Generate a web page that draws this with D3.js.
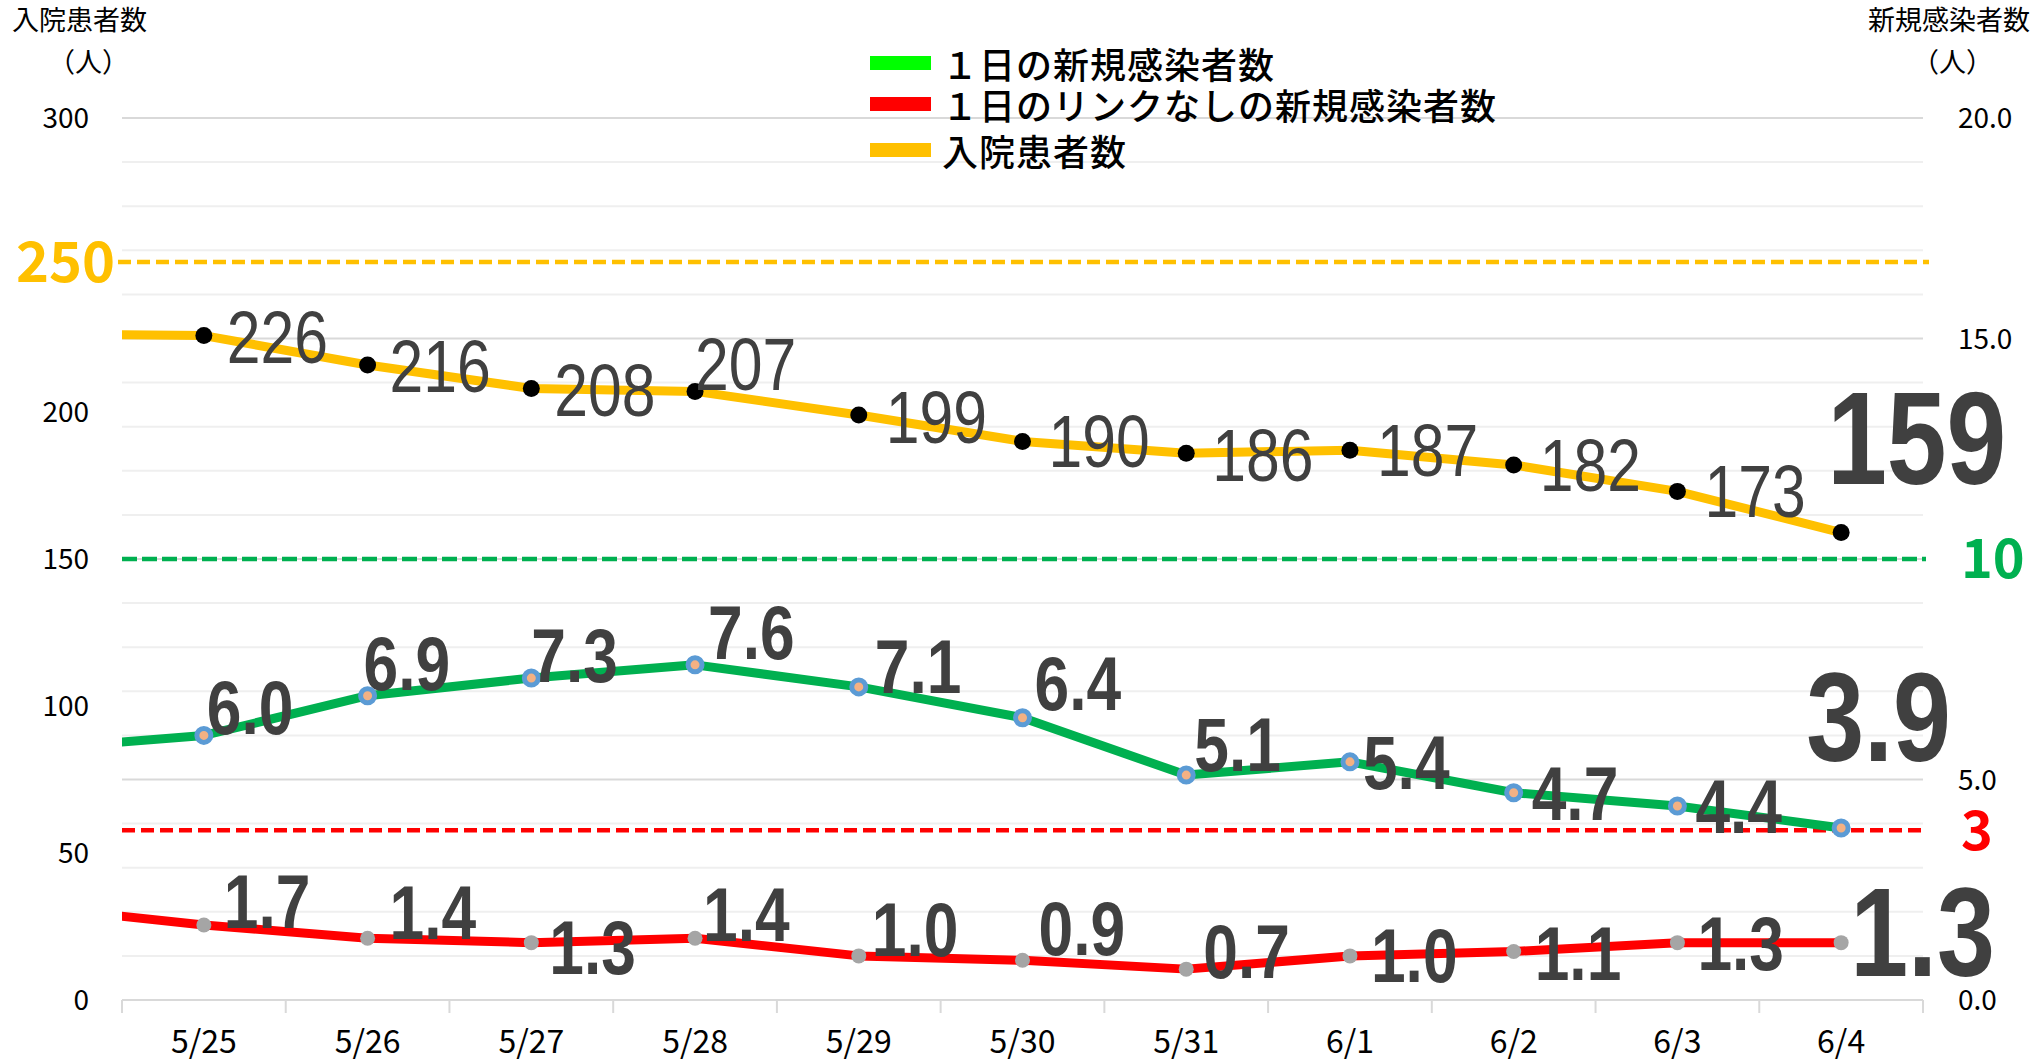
<!DOCTYPE html>
<html>
<head>
<meta charset="utf-8">
<script src="https://cdn.jsdelivr.net/npm/d3@7"></script>
<style>
  body { margin: 0; background: #fff; }
  svg text { font-family: "Noto Sans CJK JP", "Noto Sans", sans-serif; }
  .num { font-family: "Liberation Sans", Arial, sans-serif; fill: #404040; }
</style>
</head>
<body>
<div id="app"></div>
<script>
const w = 2039;
const h = 1064;

// data
const dates = ['5/25', '5/26', '5/27', '5/28', '5/29', '5/30', '5/31', '6/1', '6/2', '6/3', '6/4'];
const inpatients = [226, 216, 208, 207, 199, 190, 186, 187, 182, 173, 159];
const newCases = [6.0, 6.9, 7.3, 7.6, 7.1, 6.4, 5.1, 5.4, 4.7, 4.4, 3.9];
const unlinkedCases = [1.7, 1.4, 1.3, 1.4, 1.0, 0.9, 0.7, 1.0, 1.1, 1.3, 1.3];
// value of the day before 5/25 (only the line stub at the left edge shows)
const prevInpatients = 226.5;
const prevNewCases = 5.7;
const prevUnlinked = 2.1;

// 250 and 10.0 are hidden behind the big target labels
const leftTicks = [0, 50, 100, 150, 200, 300];
const rightTicks = [0, 5, 15, 20];
const legendNames = ['１日の新規感染者数', '１日のリンクなしの新規感染者数', '入院患者数'];

// target lines: label, value (drawn where the picture has them)
const targetLabels = ['250', '10', '3'];
const targetValues = [251, 10, 3.85];

// layout
const m = { left: 122, right: 1923, top: 118, bottom: 1000 };
const narrow = 0.82; // squeeze for the condensed label font

const svg = d3.select('#app')
  .append('svg')
  .attr('width', w)
  .attr('height', h);

const x = d3.scaleBand().domain(dates).range([m.left, m.right]).paddingInner(0).paddingOuter(0);
const cx = (i) => (i < 0 ? x(dates[0]) - x.step() / 2 : x(dates[i]) + x.bandwidth() / 2);
const yL = d3.scaleLinear().domain([0, 300]).range([m.bottom, m.top]);
const yR = d3.scaleLinear().domain([0, 20]).range([m.bottom, m.top]);

//////////GRID//////////

svg.append('g')
  .selectAll('line')
  .data(d3.range(1, 21))
  .join('line')
  .attr('x1', m.left)
  .attr('x2', m.right)
  .attr('y1', (d) => yR(d))
  .attr('y2', (d) => yR(d))
  .attr('stroke', (d) => (d % 5 === 0 ? '#D9D9D9' : '#EFEFEF'))
  .attr('stroke-width', 2);

// x axis line + category ticks
svg.append('line')
  .attr('x1', m.left).attr('x2', m.right)
  .attr('y1', m.bottom).attr('y2', m.bottom)
  .attr('stroke', '#D9D9D9').attr('stroke-width', 2);

svg.append('g')
  .selectAll('line')
  .data(d3.range(dates.length + 1))
  .join('line')
  .attr('x1', (i) => m.left + i * x.step())
  .attr('x2', (i) => m.left + i * x.step())
  .attr('y1', m.bottom)
  .attr('y2', m.bottom + 13)
  .attr('stroke', '#D9D9D9')
  .attr('stroke-width', 2);

svg.append('g')
  .selectAll('text')
  .data(dates)
  .join('text')
  .attr('x', (d, i) => cx(i))
  .attr('y', 1053)
  .attr('text-anchor', 'middle')
  .attr('font-size', 32)
  .attr('fill', '#000')
  .text((d) => d);

//////////AXES LABELS//////////

svg.append('g')
  .selectAll('text')
  .data(leftTicks)
  .join('text')
  .attr('x', 89)
  .attr('y', (d) => yL(d))
  .attr('dy', '0.36em')
  .attr('text-anchor', 'end')
  .attr('font-size', 28)
  .attr('fill', '#000')
  .text((d) => d);

svg.append('g')
  .selectAll('text')
  .data(rightTicks)
  .join('text')
  .attr('x', 1958)
  .attr('y', (d) => yR(d))
  .attr('dy', '0.36em')
  .attr('text-anchor', 'start')
  .attr('font-size', 28)
  .attr('fill', '#000')
  .text((d) => d3.format('.1f')(d));

svg.append('text').attr('x', 12).attr('y', 30).attr('font-size', 27).text('入院患者数');
svg.append('text').attr('x', 48).attr('y', 72).attr('font-size', 27).text('（人）');
svg.append('text').attr('x', 1868).attr('y', 30).attr('font-size', 27).text('新規感染者数');
svg.append('text').attr('x', 1912).attr('y', 72).attr('font-size', 27).text('（人）');

//////////TARGET LINES//////////

const targetColors = ['#FFC000', '#00B050', '#FF0000'];
const targetY = [yL(targetValues[0]), yR(targetValues[1]), yR(targetValues[2])];

svg.append('g')
  .selectAll('line')
  .data(targetValues)
  .join('line')
  .attr('x1', (d, i) => (i === 0 ? 118 : m.left))
  .attr('x2', (d, i) => (i === 0 ? 1929 : 1926))
  .attr('y1', (d, i) => targetY[i])
  .attr('y2', (d, i) => targetY[i])
  .attr('stroke', (d, i) => targetColors[i])
  .attr('stroke-width', 4.5)
  .attr('stroke-dasharray', (d, i) => (i === 1 ? '15,5' : '13,6'));

svg.append('g')
  .selectAll('text')
  .data(targetLabels)
  .join('text')
  .attr('x', (d, i) => (i === 0 ? 115 : 1961))
  .attr('y', (d, i) => targetY[i])
  .attr('dy', '0.36em')
  .attr('text-anchor', (d, i) => (i === 0 ? 'end' : 'start'))
  .attr('font-family', '"Noto Sans", sans-serif')
  .attr('font-weight', 'bold')
  .attr('font-size', (d, i) => (i === 0 ? 56 : 54))
  .attr('fill', (d, i) => targetColors[i])
  .text((d) => d);

//////////SERIES//////////

svg.append('clipPath')
  .attr('id', 'plot-clip')
  .append('rect')
  .attr('x', m.left).attr('y', 0)
  .attr('width', m.right - m.left).attr('height', h);

const line = d3.line();

const series = [
  { values: newCases, prev: prevNewCases, y: yR, color: '#00B050' },
  { values: unlinkedCases, prev: prevUnlinked, y: yR, color: '#FF0000' },
  { values: inpatients, prev: prevInpatients, y: yL, color: '#FFC000' }
];

series.forEach((s) => {
  const pts = [[cx(-1), s.y(s.prev)]].concat(s.values.map((v, i) => [cx(i), s.y(v)]));
  svg.append('path')
    .attr('clip-path', 'url(#plot-clip)')
    .attr('d', line(pts))
    .attr('fill', 'none')
    .attr('stroke', s.color)
    .attr('stroke-width', 9)
    .attr('stroke-linejoin', 'round');
});

// markers
svg.append('g')
  .selectAll('circle')
  .data(newCases)
  .join('circle')
  .attr('cx', (d, i) => cx(i))
  .attr('cy', (d) => yR(d))
  .attr('r', 7)
  .attr('fill', '#F4B183')
  .attr('stroke', '#5B9BD5')
  .attr('stroke-width', 5);

svg.append('g')
  .selectAll('circle')
  .data(unlinkedCases)
  .join('circle')
  .attr('cx', (d, i) => cx(i))
  .attr('cy', (d) => yR(d))
  .attr('r', 7.5)
  .attr('fill', '#A5A5A5');

svg.append('g')
  .selectAll('circle')
  .data(inpatients)
  .join('circle')
  .attr('cx', (d, i) => cx(i))
  .attr('cy', (d) => yL(d))
  .attr('r', 8.5)
  .attr('fill', '#000');

//////////DATA LABELS//////////
// label offsets from each point (left edge / baseline), last one is the big highlight
const inpatientOffsets = [[23, 27], [22, 27], [23, 28], [0, -1], [27, 28], [26, 26], [26, 28], [27, 26], [26, 26], [27, 26], [-14, -49]];
const newCaseOffsets = [[3, -1], [-4, -6], [0, 4], [13, -6], [16, 6], [12, -8], [8, -4], [13, 27], [18, 27], [18, 27], [-35, -67]];
const unlinkedOffsets = [[20, 3], [22, 1], [18, 31], [8, 3], [13, 0], [16, -5], [17, 9], [21, 26], [21, 29], [20, 27], [9, 33]];

const labelSets = [
  { values: inpatients, y: yL, off: inpatientOffsets, fmt: d3.format('d'), weight: 'normal', size: 74, big: 131 },
  { values: newCases, y: yR, off: newCaseOffsets, fmt: d3.format('.1f'), weight: 'bold', size: 76, big: 127 },
  { values: unlinkedCases, y: yR, off: unlinkedOffsets, fmt: d3.format('.1f'), weight: 'bold', size: 76, big: 127 }
];

labelSets.forEach((s) => {
  svg.append('g')
    .selectAll('text')
    .data(s.values)
    .join('text')
    .attr('class', 'num')
    .attr('transform', (d, i) => `translate(${cx(i) + s.off[i][0]},${s.y(d) + s.off[i][1]}) scale(${narrow},1)`)
    .attr('font-size', (d, i) => (i === s.values.length - 1 ? s.big : s.size))
    .attr('font-weight', (d, i) => (i === s.values.length - 1 ? 'bold' : s.weight))
    .text((d) => s.fmt(d));
});

//////////LEGEND//////////

const legendColors = ['#00FF00', '#FF0000', '#FFC000'];
const legendY = [63, 104, 150];

const legend = svg.append('g').attr('id', 'legend');

legend.selectAll('rect')
  .data(legendNames)
  .join('rect')
  .attr('x', 870)
  .attr('y', (d, i) => legendY[i] - 7)
  .attr('width', 61)
  .attr('height', 14)
  .attr('fill', (d, i) => legendColors[i]);

legend.selectAll('text')
  .data(legendNames)
  .join('text')
  .attr('x', 942)
  .attr('y', (d, i) => legendY[i])
  .attr('dominant-baseline', 'central')
  .attr('font-size', 36)
  .attr('font-weight', 500)
  .attr('letter-spacing', 1)
  .attr('fill', '#000')
  .text((d) => d);
</script>
</body>
</html>
